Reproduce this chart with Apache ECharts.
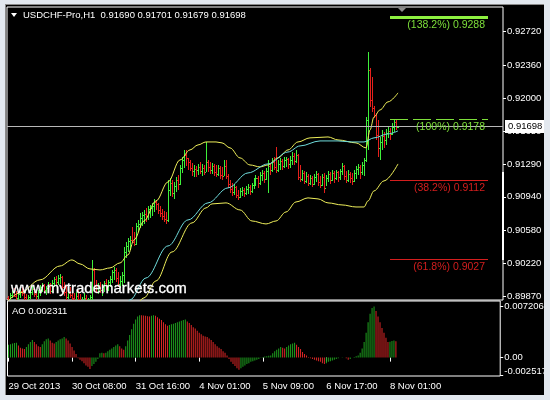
<!DOCTYPE html>
<html><head><meta charset="utf-8">
<script src="https://cdn.jsdelivr.net/npm/echarts@6/dist/echarts.min.js"></script>
<style>html,body{margin:0;padding:0;background:#000;}#c{width:550px;height:400px;}</style>
</head><body><div id="c"></div>
<script>
// ---------- data ----------
const symbolTitle = 'USDCHF-Pro,H1  0.91690 0.91701 0.91679 0.91698';
const timeTickLabels = ['29 Oct 2013','30 Oct 08:00','31 Oct 16:00','4 Nov 01:00','5 Nov 09:00','6 Nov 17:00','8 Nov 01:00'];
const barsPerTick = 32;
const totalSlots = 248;           // bars + empty chart-shift space
const firstOpen = 0.89850;
const highs = [
0.89871,0.89904,0.89936,0.89958,0.89925,0.89914,0.89947,0.89969,0.89936,0.89893,
0.89882,0.89936,0.89979,0.89958,0.89925,0.89936,0.89990,0.90012,0.90001,0.89979,
0.90022,0.90012,0.90044,0.90076,0.90086,0.90097,0.90108,0.90086,0.90022,0.89990,
0.89958,0.89969,0.89936,0.89904,0.89914,0.89936,0.89893,0.89861,0.89904,0.89882,
0.89850,0.89882,0.90259,0.90173,0.90044,0.90012,0.90022,0.90001,0.90033,0.90054,
0.90044,0.90086,0.90151,0.90184,0.90173,0.90129,0.90086,0.90129,0.90400,0.90453,
0.90497,0.90518,0.90615,0.90561,0.90658,0.90690,0.90766,0.90776,0.90798,0.90820,
0.90841,0.90852,0.90874,0.90917,0.90906,0.90874,0.90841,0.90810,0.90787,0.90776,
0.91122,0.91143,0.91122,0.91100,0.91154,0.91175,0.91283,0.91370,0.91445,0.91445,
0.91359,0.91337,0.91305,0.91283,0.91272,0.91294,0.91315,0.91294,0.91283,0.91531,
0.91337,0.91315,0.91305,0.91294,0.91283,0.91283,0.91272,0.91262,0.91337,0.91337,
0.91186,0.91122,0.91090,0.91079,0.91057,0.91014,0.91036,0.91046,0.91036,0.91057,
0.91079,0.91068,0.91090,0.91143,0.91175,0.91165,0.91207,0.91229,0.91218,0.91251,
0.91337,0.91305,0.91359,0.91370,0.91478,0.91337,0.91359,0.91348,0.91370,0.91370,
0.91359,0.91380,0.91423,0.91413,0.91445,0.91402,0.91283,0.91229,0.91218,0.91207,
0.91186,0.91175,0.91165,0.91186,0.91218,0.91197,0.91165,0.91186,0.91197,0.91175,
0.91218,0.91207,0.91229,0.91218,0.91229,0.91218,0.91240,0.91305,0.91283,0.91218,
0.91229,0.91207,0.91197,0.91229,0.91272,0.91294,0.91283,0.91315,0.91359,0.91801,
0.92501,0.92329,0.92232,0.91920,0.91844,0.91768,0.91585,0.91661,0.91639,0.91672,
0.91693,0.91682,0.91736,0.91779,0.91768,0.91701];
const lows = [
0.89774,0.89806,0.89850,0.89861,0.89828,0.89817,0.89850,0.89871,0.89828,0.89785,
0.89796,0.89839,0.89882,0.89861,0.89828,0.89839,0.89871,0.89914,0.89904,0.89882,
0.89925,0.89893,0.89914,0.89969,0.89979,0.89990,0.90001,0.89936,0.89871,0.89828,
0.89839,0.89850,0.89817,0.89785,0.89796,0.89806,0.89763,0.89742,0.89785,0.89753,
0.89720,0.89763,0.89828,0.89936,0.89914,0.89893,0.89904,0.89871,0.89914,0.89936,
0.89925,0.89969,0.90012,0.90044,0.90022,0.89969,0.89958,0.89979,0.90012,0.90281,
0.90345,0.90367,0.90443,0.90410,0.90421,0.90561,0.90604,0.90625,0.90647,0.90668,
0.90690,0.90712,0.90733,0.90776,0.90798,0.90755,0.90723,0.90690,0.90668,0.90647,
0.90668,0.90950,0.90939,0.90917,0.90992,0.91014,0.91068,0.91197,0.91251,0.91272,
0.91229,0.91218,0.91165,0.91154,0.91154,0.91175,0.91186,0.91165,0.91175,0.91207,
0.91207,0.91186,0.91186,0.91165,0.91154,0.91165,0.91133,0.91122,0.91165,0.91133,
0.91036,0.90982,0.90950,0.90960,0.90928,0.90906,0.90928,0.90950,0.90939,0.90960,
0.90971,0.90960,0.90982,0.91025,0.91057,0.91036,0.91068,0.91111,0.91090,0.91122,
0.90982,0.91175,0.91207,0.91229,0.91197,0.91207,0.91229,0.91229,0.91251,0.91262,
0.91240,0.91251,0.91283,0.91283,0.91305,0.91122,0.91100,0.91111,0.91079,0.91090,
0.91057,0.91068,0.91046,0.91068,0.91100,0.91057,0.91036,0.91057,0.90982,0.91057,
0.91100,0.91079,0.91111,0.91090,0.91122,0.91100,0.91122,0.91175,0.91122,0.91090,
0.91100,0.91090,0.91068,0.91100,0.91133,0.91175,0.91133,0.91175,0.91165,0.91315,
0.91445,0.91909,0.91854,0.91789,0.91553,0.91370,0.91337,0.91445,0.91467,0.91500,
0.91576,0.91553,0.91607,0.91639,0.91661,0.91679];
const closes = [
0.89828,0.89882,0.89914,0.89871,0.89850,0.89893,0.89925,0.89904,0.89861,0.89828,
0.89861,0.89914,0.89947,0.89893,0.89871,0.89914,0.89969,0.89990,0.89936,0.89958,
0.90001,0.89925,0.90012,0.90054,0.90022,0.90065,0.90076,0.89969,0.89914,0.89861,
0.89904,0.89882,0.89850,0.89828,0.89871,0.89839,0.89796,0.89817,0.89850,0.89774,
0.89806,0.89861,0.90151,0.89979,0.89958,0.89990,0.89936,0.89969,0.90012,0.89990,
0.90022,0.90054,0.90129,0.90151,0.90065,0.90001,0.90033,0.90097,0.90345,0.90410,
0.90464,0.90475,0.90453,0.90432,0.90625,0.90647,0.90712,0.90744,0.90755,0.90733,
0.90810,0.90820,0.90841,0.90884,0.90863,0.90798,0.90766,0.90733,0.90701,0.90690,
0.91014,0.91090,0.90982,0.91057,0.91122,0.91079,0.91251,0.91337,0.91391,0.91359,
0.91315,0.91251,0.91218,0.91240,0.91229,0.91262,0.91218,0.91251,0.91207,0.91315,
0.91262,0.91229,0.91272,0.91207,0.91186,0.91251,0.91175,0.91165,0.91272,0.91165,
0.91079,0.91025,0.90992,0.91046,0.90960,0.90939,0.91003,0.91014,0.90982,0.91025,
0.91046,0.91003,0.91068,0.91111,0.91143,0.91090,0.91175,0.91197,0.91132,0.91218,
0.91272,0.91229,0.91315,0.91262,0.91229,0.91294,0.91326,0.91272,0.91337,0.91348,
0.91294,0.91337,0.91380,0.91326,0.91391,0.91154,0.91132,0.91197,0.91111,0.91165,
0.91090,0.91143,0.91079,0.91154,0.91186,0.91100,0.91068,0.91154,0.91036,0.91143,
0.91186,0.91122,0.91197,0.91143,0.91207,0.91154,0.91218,0.91272,0.91165,0.91122,
0.91186,0.91143,0.91111,0.91197,0.91240,0.91262,0.91207,0.91283,0.91337,0.91768,
0.92307,0.91984,0.91898,0.91822,0.91607,0.91467,0.91531,0.91596,0.91553,0.91629,
0.91650,0.91618,0.91693,0.91746,0.91690,0.91698];
const aoValues = [
0.0018,0.0019,0.0020,0.00205,0.0021, 0.0017,0.0014,0.0013,0.0012,
0.0015,0.0019,0.0022,0.0025, 0.0022,0.0019,0.0016,0.0015,
0.0019,0.0023,0.0026,0.0027, 0.0024,0.0021,0.0020,
0.0022,0.0024,0.0026,0.0027,0.0029, 0.0027,0.0024,0.0020,0.0015,0.0010,0.0005,
-0.0001,-0.0003,-0.0005,-0.0008,-0.0011,-0.0013,-0.0016,
-0.0012,-0.0009,-0.0006,-0.0002, 0.0006,0.0007,0.0006,0.0007,
0.0009,0.0011,0.0013,0.0015,0.0017,0.0019, 0.0016,0.0013,0.0011,
0.0016,0.0024,0.0032,0.0040,0.0048, 0.0054,0.0058,0.0060,
0.00598,0.00595,0.0059,0.00585,0.0058, 0.0059,0.0060,
0.0059,0.0057,0.0055,0.0053,0.0050,0.0047,0.0045,
0.0046,0.0047,0.0048,0.0049,0.0050,0.0051,0.0052, 0.0053,0.0054,
0.0051,0.0049,0.0046,0.0043,0.0041,0.0038,0.0035,0.0033,0.0031,0.0030,
0.0029,0.0027,0.0025,0.0022,0.0019,0.0016,0.0014,0.0012,0.0009,0.0007,
0.0003,-0.0002,-0.0006,-0.0009,-0.0012,-0.0015,-0.0017,
-0.0015,-0.0013,-0.0011,-0.0009,-0.0008,-0.0006,-0.0005,-0.0004,-0.0003,-0.0002,
0.00005,0.0001,0.00015,0.0002,0.00025,0.0003, 0.0006,0.0009,0.0011,0.0013,0.0015,
0.0014,0.0013, 0.0015,0.0017,0.0019,0.0020,0.0021,
0.0018,0.0015,0.0012,0.0008,0.0005,0.0003,
0.0001,-0.0001,-0.0002,-0.0003,-0.0004,-0.0005,-0.0006,-0.0008,-0.0009,
-0.0008,-0.0006,-0.0005,-0.0004,-0.0003,-0.0002,-0.0001,
0.00002,0.00005,0.00003,-0.0001,-0.0003,-0.0002,
0.0000,0.0001,0.0002,0.0003, 0.0007,0.0013,0.0022,0.0035,
0.0050,0.0062,0.0070, 0.007206,
0.0066,0.0058,0.0050,0.0042,0.0035,0.0028,0.0022,
0.00225,0.00235,0.0024,0.002311];
const bbUpper = [[0,0.89817],[6,0.89904],[16,0.90044],[26,0.90194],[32,0.90259],[36,0.90216],[41,0.90162],[46,0.90151],[51,0.90173],[56,0.90227],[60,0.90313],[63,0.90475],[68,0.90679],[74,0.90895],[80,0.91100],[86,0.91337],[91,0.91445],[95,0.91499],[99,0.91531],[104,0.91531],[107,0.91521],[111,0.91467],[116,0.91359],[121,0.91283],[126,0.91262],[130,0.91283],[135,0.91359],[140,0.91445],[145,0.91531],[151,0.91575],[160,0.91585],[165,0.91553],[174,0.91521],[179,0.91467],[181,0.91660],[183,0.91801],[186,0.91876],[190,0.91963],[195,0.92060]];
const bbLower = [[56,0.89505],[60,0.89634],[68,0.89850],[74,0.90033],[82,0.90345],[92,0.90658],[99,0.90820],[102,0.90863],[109,0.90874],[116,0.90798],[122,0.90679],[129,0.90647],[134,0.90679],[139,0.90776],[144,0.90884],[150,0.90928],[155,0.90917],[160,0.90874],[167,0.90852],[174,0.90830],[178,0.90830],[180,0.90895],[183,0.91003],[188,0.91111],[195,0.91294]];
const maCyan = [[56,0.89600],[61,0.89828],[69,0.90065],[80,0.90410],[90,0.90690],[100,0.90874],[110,0.91036],[120,0.91197],[130,0.91294],[140,0.91423],[146,0.91488],[156,0.91542],[165,0.91542],[172,0.91531],[178,0.91531],[183,0.91575],[190,0.91618],[195,0.91650]];
const fibPercents = ['138.2%','100%','38.2%','61.8%'];
const fibValues = [0.9288,0.9178,0.9112,0.9027];
const fibStartBar = 191, fibEndBar = 240;
const trendFrom = [0,0.89824], trendTo = [180,0.92501];
const priceTicks = [0.92720,0.92360,0.92000,0.91650,0.91290,0.90940,0.90580,0.90220,0.89870];
const aoTicks = [0.007206,0,-0.002517];
const aoTickLabels = ['0.007206','0.00','-0.002517'];
const lastPrice = 0.91698;
const aoTitle = 'AO 0.002311';
const watermark = 'www.mytrademarkets.com';

// ---------- build ----------
const FONT = '"Liberation Sans", Arial, sans-serif';
const UP = '#3ef03a', DOWN = '#e6201c';
const AO_UP = '#1ea01e', AO_DOWN = '#dc2626';
const slots = Array.from({length: totalSlots}, (_, i) => String(i));
const ohlc = closes.map((c, i) => [i, i === 0 ? firstOpen : closes[i-1], highs[i], lows[i], c]);
const aoBars = aoValues.map((v, i) => ({value: v, itemStyle: {color: (i === 0 || v > aoValues[i-1]) ? AO_UP : AO_DOWN}}));
const showTick = i => i % barsPerTick === 0 && i / barsPerTick < timeTickLabels.length;

const fibColor = ['#8ef040','#7ddf3a','#d41e1e','#d41e1e'];
const fibText = ['#7ddf3a','#7ddf3a','#d41e1e','#d41e1e'];
const fibWidth = [3,1,1,1];
const fibType = ['solid',[18,5],'solid','solid'];
const markData = [
  [{coord: trendFrom, lineStyle:{color:'#c81818', width:1, type:'solid'}, label:{show:false}}, {coord: trendTo}],
  {yAxis: lastPrice, lineStyle:{color:'#b8b8b8', width:1, type:'solid'},
   label:{show:true, position:'end', distance:2, formatter: lastPrice.toFixed(5), backgroundColor:'#fff', color:'#000', padding:[2,3,1,3], fontSize:9.5, fontFamily:FONT}}
].concat(fibValues.map((v, k) => [
  {coord:[fibStartBar, v], lineStyle:{color:fibColor[k], width:fibWidth[k], type:fibType[k]},
   label:{show:true, position:'insideEndBottom', distance:3, formatter:'(' + fibPercents[k] + ') ' + v.toFixed(4), color:fibText[k], fontSize:10.5, fontFamily:FONT}},
  {coord:[fibEndBar, v]}
]));

const chart = echarts.init(document.getElementById('c'), null, {renderer:'canvas', width:550, height:400});
const frame = '#e2e8ef';
chart.setOption({
  animation:false,
  backgroundColor:'#000',
  grid:[
    {left:7, top:7, width:496, height:293, show:true, borderColor:'#fff', borderWidth:1, backgroundColor:'transparent'},
    {left:7.5, top:301, width:496, height:75, show:true, borderColor:'#fff', borderWidth:1, backgroundColor:'transparent'}
  ],
  xAxis:[
    {type:'category', gridIndex:0, data:slots, boundaryGap:true, axisLine:{show:false}, axisTick:{show:false}, axisLabel:{show:false}, splitLine:{show:false}},
    {type:'category', gridIndex:1, data:slots, boundaryGap:true, axisLine:{show:false},
     axisTick:{show:true, alignWithLabel:true, interval:(i)=>showTick(i), length:4, lineStyle:{color:'#fff'}},
     axisLabel:{show:true, interval:(i)=>showTick(i), formatter:(v)=>{const i=parseInt(v,10); return showTick(i)?timeTickLabels[i/barsPerTick]:'';}, align:'left', color:'#fff', fontSize:9.5, fontFamily:FONT, margin:5},
     splitLine:{show:false}}
  ],
  yAxis:[
    {type:'value', gridIndex:0, position:'right', min:0.89827, max:0.92986, axisLine:{show:false}, splitLine:{show:false},
     axisTick:{show:true, length:3, lineStyle:{color:'#fff'}, customValues:priceTicks},
     axisLabel:{customValues:priceTicks, color:'#fff', fontSize:9.5, fontFamily:FONT, margin:4, formatter:v=>v.toFixed(5)}},
    {type:'value', gridIndex:1, position:'right', min:-0.0026, max:0.0080, axisLine:{show:false}, splitLine:{show:false},
     axisTick:{show:true, length:3, lineStyle:{color:'#fff'}, customValues:aoTicks},
     axisLabel:{customValues:aoTicks, color:'#fff', fontSize:9.5, fontFamily:FONT, margin:4,
       formatter:v=>{let j=0; for(let k=0;k<aoTicks.length;k++){ if(Math.abs(aoTicks[k]-v)<1e-9) j=k; } return aoTicks[j]<0 ? '{lo|'+aoTickLabels[j]+'}' : aoTickLabels[j];},
       rich:{lo:{color:'#fff', fontSize:9.5, fontFamily:FONT, padding:[0,0,9,0]}}}}
  ],
  series:[
    {type:'custom', name:'bars', xAxisIndex:0, yAxisIndex:0, data:ohlc, clip:true, z:2, silent:true,
     encode:{x:0, y:[1,2,3,4]},
     renderItem:(params, api)=>{
       const i=api.value(0), o=api.value(1), h=api.value(2), l=api.value(3), c=api.value(4);
       const pH=api.coord([i,h]), pL=api.coord([i,l]);
       const yo=Math.round(api.coord([i,o])[1]), yc=Math.round(api.coord([i,c])[1]);
       const x=Math.floor(pH[0]); const top=Math.round(pH[1]), bot=Math.round(pL[1]);
       const col = c>=o ? UP : DOWN;
       return {type:'group', children:[
         {type:'rect', shape:{x:x, y:top, width:1, height:Math.max(1,bot-top)}, style:{fill:col}},
         {type:'rect', shape:{x:x-1, y:yo, width:1, height:1}, style:{fill:col}},
         {type:'rect', shape:{x:x+1, y:yc, width:1, height:1}, style:{fill:col}}
       ]};
     }},
    {type:'line', name:'bbUpper', xAxisIndex:0, yAxisIndex:0, data:bbUpper, showSymbol:false, smooth:0.35, smoothMonotone:'x', z:3, silent:true,
     lineStyle:{color:'#eeee5a', width:1},
     markLine:{symbol:['none','none'], silent:true, animation:false, precision:6, data:markData}},
    {type:'line', name:'bbLower', xAxisIndex:0, yAxisIndex:0, data:bbLower, showSymbol:false, smooth:0.35, smoothMonotone:'x', z:3, silent:true,
     lineStyle:{color:'#eeee5a', width:1}},
    {type:'line', name:'ma', xAxisIndex:0, yAxisIndex:0, data:maCyan, showSymbol:false, smooth:0.35, smoothMonotone:'x', z:3, silent:true,
     lineStyle:{color:'#6fdcdc', width:1}},
    {type:'bar', name:'AO', xAxisIndex:1, yAxisIndex:1, data:aoBars, barWidth:1, silent:true, z:2,
     emphasis:{disabled:true}, large:false, itemStyle:{borderWidth:0}}
  ],
  graphic:[
    {type:'rect', z:100, shape:{x:0,y:0,width:550,height:5}, style:{fill:frame}},
    {type:'rect', z:100, shape:{x:0,y:0,width:6,height:400}, style:{fill:frame}},
    {type:'rect', z:100, shape:{x:544,y:0,width:6,height:400}, style:{fill:frame}},
    {type:'rect', z:100, shape:{x:0,y:395,width:550,height:5}, style:{fill:frame}},
    {type:'rect', z:101, shape:{x:5,y:4,width:1,height:391}, style:{fill:'#8a8a8a'}},
    {type:'rect', z:101, shape:{x:5,y:4,width:539,height:1}, style:{fill:'#8a8a8a'}},
    {type:'polygon', z:100, shape:{points:[[11,13],[17,13],[14,17]]}, style:{fill:'#fff'}},
    {type:'text', z:100, x:23, y:15, style:{text:symbolTitle, fill:'#fff', font:'9.5px '+FONT, verticalAlign:'middle'}},
    {type:'text', z:100, x:11, y:289, style:{text:watermark, fill:'#fff', font:'15px '+FONT, verticalAlign:'middle', stroke:'#fff', lineWidth:0.3}},
    {type:'text', z:100, x:12, y:311, style:{text:aoTitle, fill:'#fff', font:'9.5px '+FONT, verticalAlign:'middle'}},
    {type:'polygon', z:100, shape:{points:[[398,8],[406,8],[402,12]]}, style:{fill:'#8c8c8c'}},
    {type:'rect', z:100, shape:{x:502,y:172,width:2,height:88}, style:{fill:'#fff'}}
  ]
});
</script></body></html>
